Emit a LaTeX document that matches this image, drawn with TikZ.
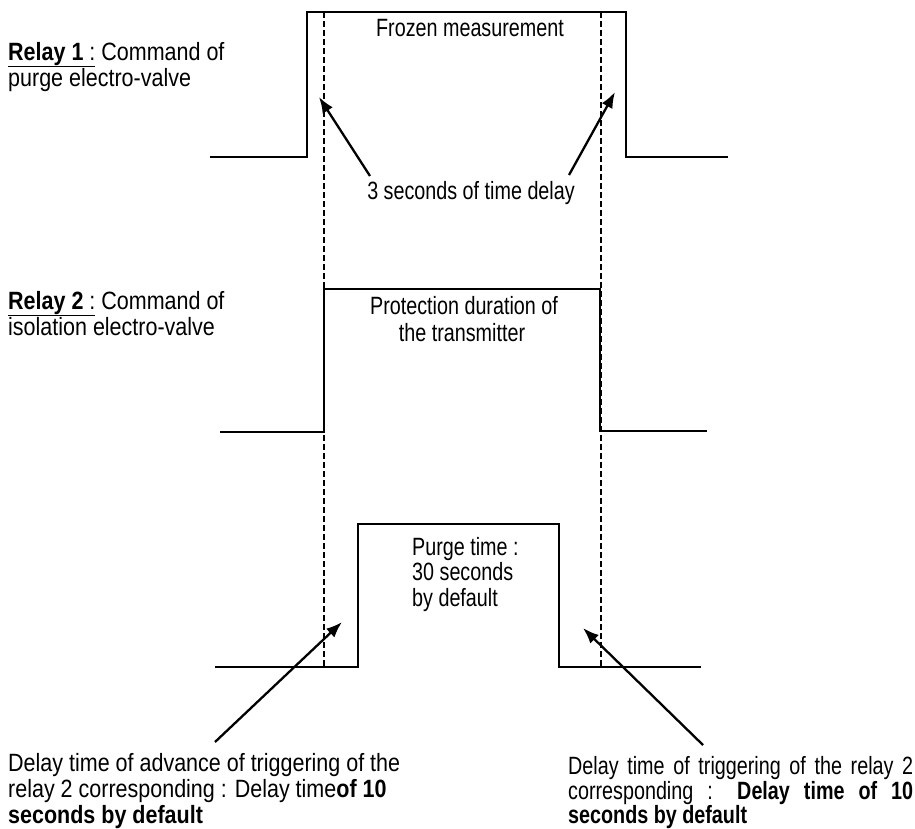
\documentclass[tikz,border=0pt]{standalone}
\usepackage{fontspec}
\setmainfont{Liberation Sans}[FakeStretch=0.79]
\newfontfamily\relayfont{Liberation Sans}[FakeStretch=0.86]
\newfontfamily\notefont{Liberation Sans}[FakeStretch=0.86]
\usetikzlibrary{arrows.meta}
\begin{document}
\begin{tikzpicture}[x=1pt,y=-1pt,
  wave/.style={line width=2.9pt, line join=miter},
  guide/.style={line width=2.4pt, dash pattern=on 6pt off 3pt},
  pointer/.style={line width=2.3pt, -{Latex[length=16pt,width=12pt]}},
  lbl/.style={inner sep=0pt, font=\fontsize{25}{29}\selectfont},
  rlbl/.style={inner sep=0pt, font=\fontsize{25}{29}\relayfont},
  nlbl/.style={inner sep=0pt, font=\fontsize{25}{29}\notefont}]
\useasboundingbox (0,0) rectangle (915,828);
\fill[white] (0,0) rectangle (915,828);

% waveforms
\draw[wave] (210,157) -- (307,157) -- (307,12) -- (626,12) -- (626,157) -- (728,157);
\draw[wave] (220,432) -- (324,432) -- (324,289) -- (600,289) -- (600,431) -- (707,431);
\draw[wave] (215,667) -- (358,667) -- (358,524) -- (559,524) -- (559,667) -- (701,667);

% dashed guides
\draw[guide] (324,12) -- (324,668);
\draw[guide] (601,12) -- (601,668);

% labels left
\node[rlbl, anchor=base west] (r1a) at (8,60) {\underline{\textbf{Relay 1} :} Command of};
\node[rlbl, anchor=base west] (r1b) at (8,86) {purge electro-valve};
\node[rlbl, anchor=base west] (r2a) at (8,309) {\underline{\textbf{Relay 2} :} Command of};
\node[rlbl, anchor=base west] (r2b) at (8,335) {isolation electro-valve};

% labels inside
\node[lbl, anchor=base] (frozen) at (470,36) {Frozen measurement};
\node[lbl, anchor=base] (delay3) at (471,199) {3 seconds of time delay};
\node[lbl, anchor=base] (prot1) at (464,314) {Protection duration of};
\node[lbl, anchor=base] (prot2) at (462,341) {the transmitter};
\node[lbl, anchor=base west] (pt1) at (412,555) {Purge time :};
\node[lbl, anchor=base west] (pt2) at (412,580) {30 seconds};
\node[lbl, anchor=base west] (pt3) at (412,606) {by default};

% bottom left
\node[nlbl, anchor=base west] (bl1) at (8,771) {Delay time of advance of triggering of the};
\node[nlbl, anchor=base west] (bl2) at (8,797) {relay 2 corresponding : Delay time\textbf{of 10}};
\node[nlbl, anchor=base west] (bl3) at (8,823) {\textbf{seconds by default}};

% bottom right
\node[lbl, anchor=base west] (br1) at (568,774) {\makebox[345pt][s]{Delay time of triggering of the relay 2}};
\node[lbl, anchor=base west] (br2) at (568,799) {\makebox[345pt][s]{corresponding : \textbf{Delay time of 10}}};
\node[lbl, anchor=base west] (br3) at (568,823) {\textbf{seconds by default}};

% arrows
\coordinate (t1) at (370,176); \coordinate (h1) at (319,97);
\coordinate (t2) at (569,175); \coordinate (h2) at (615,92);
\coordinate (t3) at (215,742); \coordinate (h3) at (342,622);
\coordinate (t4) at (703,745); \coordinate (h4) at (583,628);
\draw[pointer] (t1) -- (h1);
\draw[pointer] (t2) -- (h2);
\draw[pointer] (t3) -- (h3);
\draw[pointer] (t4) -- (h4);
\end{tikzpicture}
\end{document}
